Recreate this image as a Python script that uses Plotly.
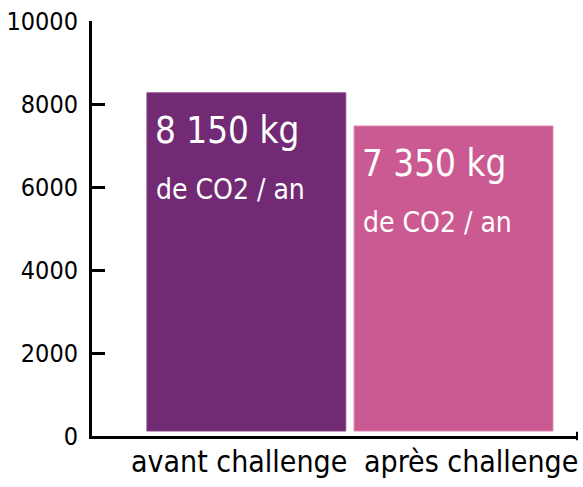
import plotly.graph_objects as go

categories = ["avant challenge", "après challenge"]
values = [8150, 7350]
value_labels = ["8 150 kg", "7 350 kg"]
unit_label = "de CO2 / an"
y_ticks = [0, 2000, 4000, 6000, 8000, 10000]

colors = ["#722A74", "#CC5A92"]
edge_colors = ["#8A4C8C", "#DC86AE"]
FONT = "DejaVu Sans Condensed, Liberation Sans Narrow, sans-serif"
BAR_BASE = 120
BAR_W = 0.96
CAT_SHIFT = [-7, 17]

x_idx = list(range(len(categories)))

fig = go.Figure()
fig.add_trace(go.Bar(
    x=x_idx, y=values, base=[BAR_BASE] * len(values), width=BAR_W,
    marker=dict(color=colors, line=dict(color=edge_colors, width=1)),
    hoverinfo="skip",
))

for i, (v, lab) in enumerate(zip(values, value_labels)):
    top = BAR_BASE + v
    fig.add_annotation(x=i - BAR_W / 2, y=top, xref="x", yref="y",
                       text=lab, showarrow=False, xanchor="left", yanchor="top",
                       xshift=7, yshift=-15, borderpad=0,
                       font=dict(family=FONT, size=36.5, color="white"))
    fig.add_annotation(x=i - BAR_W / 2, y=top, xref="x", yref="y",
                       text=unit_label, showarrow=False, xanchor="left", yanchor="top",
                       xshift=8, yshift=-79, borderpad=0,
                       font=dict(family=FONT, size=28, color="white"))

for i, cat in enumerate(categories):
    fig.add_annotation(x=i, y=0, xref="x", yref="y", text=cat, showarrow=False,
                       xanchor="center", yanchor="top", xshift=CAT_SHIFT[i], yshift=-7,
                       borderpad=0, font=dict(family=FONT, size=30, color="black"))

fig.add_shape(type="line", xref="paper", yref="paper", x0=1, x1=1, y0=-0.01, y1=0.01,
              line=dict(color="black", width=2))

fig.update_layout(
    width=583, height=487,
    margin=dict(l=91.5, r=6, t=21, b=51),
    paper_bgcolor="white", plot_bgcolor="white",
    showlegend=False,
    font=dict(family=FONT, color="black"),
    xaxis=dict(range=[-0.745, 1.596], tickvals=x_idx, showticklabels=False,
               showgrid=False, zeroline=False, showline=True, linecolor="black",
               linewidth=3, ticks="", automargin=False),
    yaxis=dict(range=[0, 10000], tickvals=y_ticks, ticktext=[str(t) for t in y_ticks],
               showgrid=False, zeroline=False, showline=True, linecolor="black",
               linewidth=3, ticks="inside", ticklen=13, tickwidth=3, tickcolor="black",
               automargin=False,
               tickfont=dict(size=25, color="black"), ticklabelstandoff=6),
)

fig.write_html("out.html", config={"displayModeBar": False},
               post_script="document.body.style.margin='0px';")
